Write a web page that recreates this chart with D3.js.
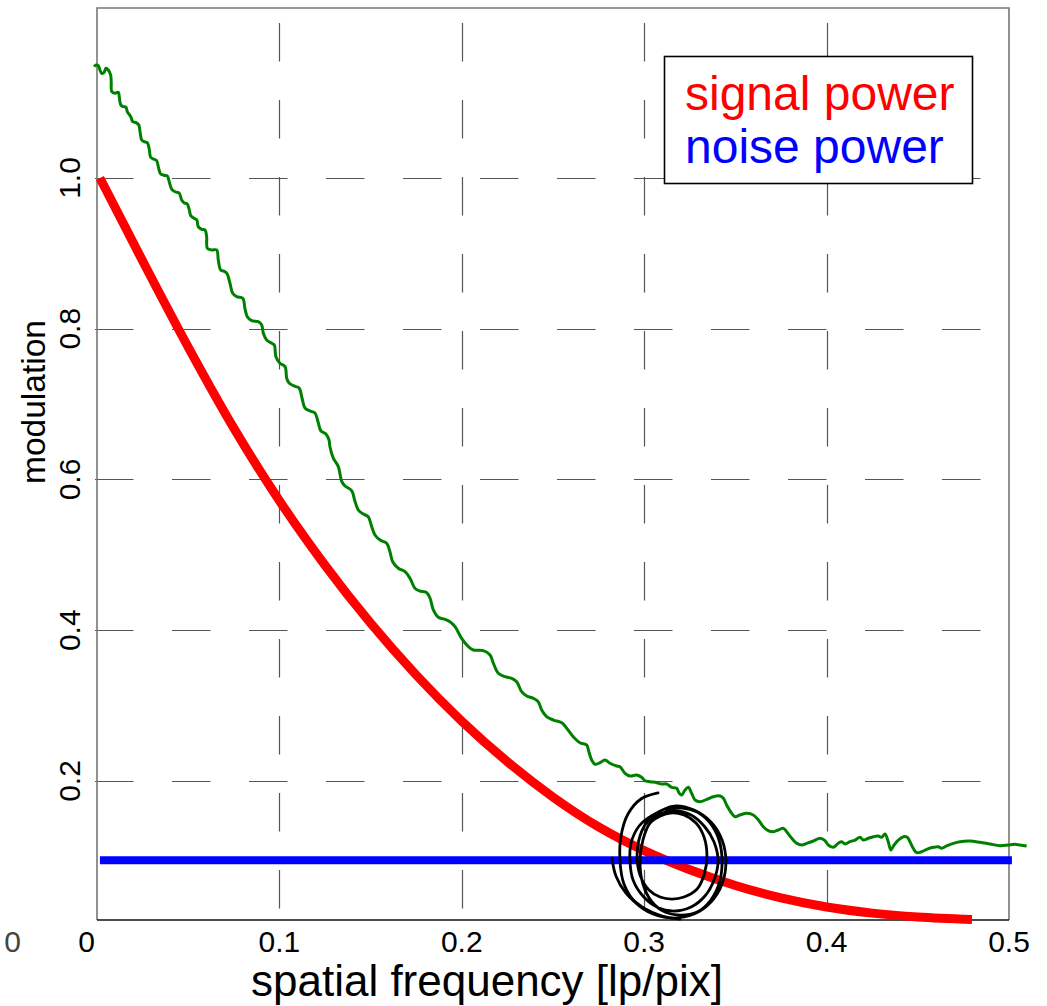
<!DOCTYPE html>
<html>
<head>
<meta charset="utf-8">
<script src="https://cdn.jsdelivr.net/npm/d3@7"></script>
<style>
  html, body { margin: 0; padding: 0; background: #fff; }
  svg { display: block; font-family: "Liberation Sans", Arial, Helvetica, sans-serif; }
</style>
</head>
<body>
<svg id="chart" width="1047" height="1006"></svg>
<script>
// Axis ticks
const xTicks = [0, 0.1, 0.2, 0.3, 0.4, 0.5];
const xTickLabels = ["0", "0.1", "0.2", "0.3", "0.4", "0.5"];
const yTicks = [0.2, 0.4, 0.6, 0.8, 1.0];
const yTickLabels = ["0.2", "0.4", "0.6", "0.8", "1.0"];

// Signal power (red)
const signalFreq = [0.0016, 0.025, 0.05, 0.075, 0.1, 0.125, 0.15, 0.175, 0.2, 0.225,
  0.25, 0.275, 0.3, 0.325, 0.35, 0.375, 0.4, 0.425, 0.45, 0.4797];
const signalPower = [1.0, 0.890, 0.7756, 0.6681, 0.5719, 0.4863, 0.4094, 0.3407, 0.2794, 0.2256,
  0.1787, 0.1391, 0.1076, 0.0823, 0.0614, 0.0449, 0.0328, 0.0247, 0.0195, 0.0162];

// Noise power (blue)
const noiseFreq = [0.0016, 0.5016];
const noisePower = [0.095, 0.095];

// Measured modulation (green)
const measuredFreq = [
  -0.0016, -0.0005, 0.0007, 0.0016, 0.0026, 0.0038, 0.0049, 0.0062, 0.0075, 0.0078,
  0.0081, 0.0099, 0.0117, 0.0122, 0.0130, 0.0144, 0.0159, 0.0166, 0.0185, 0.0196,
  0.0214, 0.0229, 0.0236, 0.0245, 0.0258, 0.0276, 0.0287, 0.0294, 0.0313, 0.0327,
  0.0338, 0.0349, 0.0367, 0.0385, 0.0396, 0.0410, 0.0428, 0.0451, 0.0464, 0.0477,
  0.0495, 0.0506, 0.0514, 0.0532, 0.0547, 0.0555, 0.0574, 0.0592, 0.0601, 0.0605,
  0.0629, 0.0656, 0.0665, 0.0678, 0.0702, 0.0714, 0.0729, 0.0744, 0.0766, 0.0799,
  0.0811, 0.0824, 0.0848, 0.0884, 0.0903, 0.0912, 0.0930, 0.0958, 0.0972, 0.0981,
  0.1003, 0.1031, 0.1040, 0.1053, 0.1080, 0.1108, 0.1124, 0.1140, 0.1168, 0.1195,
  0.1212, 0.1228, 0.1255, 0.1272, 0.1277, 0.1296, 0.1323, 0.1342, 0.1360, 0.1396,
  0.1415, 0.1433, 0.1460, 0.1487, 0.1506, 0.1524, 0.1552, 0.1588, 0.1606, 0.1621,
  0.1652, 0.1689, 0.1716, 0.1743, 0.1767, 0.1808, 0.1826, 0.1844, 0.1871, 0.1908,
  0.1935, 0.1963, 0.1999, 0.2036, 0.2063, 0.2118, 0.2155, 0.2173, 0.2200, 0.2237,
  0.2274, 0.2301, 0.2328, 0.2356, 0.2392, 0.2419, 0.2438, 0.2465, 0.2502, 0.2548,
  0.2575, 0.2611, 0.2648, 0.2685, 0.2694, 0.2712, 0.2730, 0.2758, 0.2785, 0.2812,
  0.2849, 0.2867, 0.2895, 0.2922, 0.2959, 0.2986, 0.3004, 0.3032, 0.3069, 0.3096,
  0.3123, 0.3151, 0.3178, 0.3192, 0.3206, 0.3224, 0.3242, 0.3260, 0.3279, 0.3306,
  0.3343, 0.3379, 0.3416, 0.3434, 0.3452, 0.3480, 0.3498, 0.3525, 0.3562, 0.3598,
  0.3626, 0.3653, 0.3680, 0.3708, 0.3735, 0.3763, 0.3781, 0.3809, 0.3836, 0.3864,
  0.3891, 0.3927, 0.3964, 0.3991, 0.4009, 0.4037, 0.4064, 0.4083, 0.4101, 0.4128,
  0.4156, 0.4183, 0.4201, 0.4229, 0.4256, 0.4283, 0.4302, 0.4320, 0.4338, 0.4352,
  0.4370, 0.4393, 0.4421, 0.4442, 0.4457, 0.4475, 0.4494, 0.4521, 0.4549, 0.4585,
  0.4612, 0.4631, 0.4658, 0.4695, 0.4731, 0.4786, 0.4841, 0.4896, 0.4951, 0.4996,
  0.5033, 0.5060, 0.5097
];
const measuredMod = [
  1.1477, 1.1499, 1.1490, 1.1433, 1.1389, 1.1397, 1.1455, 1.1433, 1.1366, 1.1256,
  1.1145, 1.1124, 1.1137, 1.1079, 1.0969, 1.0946, 1.0938, 1.0880, 1.0813, 1.0747,
  1.0734, 1.0703, 1.0614, 1.0504, 1.0482, 1.0468, 1.0372, 1.0275, 1.0248, 1.0230,
  1.0129, 1.0053, 1.0036, 1.0027, 0.9951, 0.9850, 0.9818, 0.9797, 0.9708, 0.9672,
  0.9655, 0.9576, 0.9500, 0.9465, 0.9443, 0.9354, 0.9319, 0.9310, 0.9221, 0.9067,
  0.9045, 0.9045, 0.8912, 0.8780, 0.8757, 0.8726, 0.8603, 0.8470, 0.8425, 0.8404,
  0.8271, 0.8160, 0.8107, 0.8094, 0.8050, 0.7940, 0.7851, 0.7807, 0.7785, 0.7629,
  0.7542, 0.7497, 0.7343, 0.7280, 0.7241, 0.7214, 0.7081, 0.6949, 0.6909, 0.6882,
  0.6763, 0.6643, 0.6604, 0.6524, 0.6435, 0.6281, 0.6170, 0.5971, 0.5914, 0.5851,
  0.5705, 0.5595, 0.5542, 0.5506, 0.5374, 0.5264, 0.5197, 0.5154, 0.5042, 0.4909,
  0.4822, 0.4777, 0.4689, 0.4557, 0.4521, 0.4498, 0.4424, 0.4269, 0.4172, 0.4145,
  0.4113, 0.4047, 0.3893, 0.3782, 0.3738, 0.3729, 0.3672, 0.3562, 0.3429, 0.3384,
  0.3363, 0.3317, 0.3185, 0.3128, 0.3097, 0.3052, 0.2942, 0.2853, 0.2809, 0.2773,
  0.2699, 0.2588, 0.2508, 0.2478, 0.2411, 0.2279, 0.2222, 0.2243, 0.2279, 0.2235,
  0.2199, 0.2190, 0.2102, 0.2066, 0.2080, 0.2049, 0.2004, 0.1991, 0.1977, 0.1960,
  0.1960, 0.1916, 0.1903, 0.1837, 0.1814, 0.1881, 0.1916, 0.1837, 0.1748, 0.1725,
  0.1757, 0.1792, 0.1801, 0.1771, 0.1682, 0.1571, 0.1526, 0.1549, 0.1571, 0.1549,
  0.1483, 0.1394, 0.1341, 0.1327, 0.1350, 0.1372, 0.1327, 0.1240, 0.1173, 0.1151,
  0.1173, 0.1204, 0.1240, 0.1208, 0.1151, 0.1120, 0.1173, 0.1195, 0.1164, 0.1195,
  0.1217, 0.1253, 0.1217, 0.1240, 0.1261, 0.1270, 0.1253, 0.1297, 0.1195, 0.1085,
  0.1151, 0.1217, 0.1261, 0.1253, 0.1195, 0.1107, 0.1049, 0.1062, 0.1094, 0.1120,
  0.1128, 0.1107, 0.1138, 0.1173, 0.1195, 0.1204, 0.1187, 0.1164, 0.1142, 0.1151,
  0.1160, 0.1151, 0.1138
];

// Hand-drawn circle around the crossing point: one looping stroke plus a short tail
const circleStrokeFreq = [
  0.3076, 0.2982, 0.2911, 0.2873, 0.2867, 0.2889, 0.2955, 0.3048, 0.3158, 0.3273,
  0.3366, 0.3427, 0.3448, 0.3427, 0.3366, 0.3273, 0.3163,
  0.3048, 0.2972, 0.2928, 0.2922, 0.2939, 0.2993, 0.3070, 0.3163, 0.3257, 0.3333,
  0.3383, 0.3405, 0.3383, 0.3333, 0.3257, 0.3174,
  0.3087, 0.3021, 0.2977, 0.2961, 0.2977, 0.3026, 0.3087, 0.3152, 0.3218, 0.3290,
  0.3328, 0.3344, 0.3328, 0.3284, 0.3218, 0.3141,
  0.3037, 0.2993, 0.2977, 0.2993, 0.3043, 0.3114, 0.3202, 0.3290, 0.3361, 0.3410,
  0.3427, 0.3410, 0.3361, 0.3290, 0.3207, 0.3120
];
const circleStrokeMod = [
  0.1841, 0.1761, 0.1562, 0.1270, 0.0952, 0.0634, 0.0381, 0.0235, 0.0182, 0.0235,
  0.0395, 0.0634, 0.0925, 0.1217, 0.1456, 0.1615, 0.1668,
  0.1549, 0.1403, 0.1177, 0.0939, 0.0687, 0.0474, 0.0328, 0.0275, 0.0328, 0.0474,
  0.0687, 0.0939, 0.1191, 0.1390, 0.1549, 0.1602,
  0.1562, 0.1469, 0.1270, 0.1005, 0.0753, 0.0554, 0.0461, 0.0434, 0.0461, 0.0567,
  0.0753, 0.1005, 0.1257, 0.1443, 0.1549, 0.1575,
  0.1456, 0.1217, 0.0925, 0.0634, 0.0395, 0.0262, 0.0222, 0.0262, 0.0408, 0.0634,
  0.0925, 0.1217, 0.1443, 0.1589, 0.1642, 0.1615
];
const circleTailFreq = [0.2823, 0.2845, 0.2900, 0.2988, 0.3098, 0.3196];
const circleTailMod = [0.0978, 0.0740, 0.0514, 0.0328, 0.0209, 0.0169];

const svg = d3.select("#chart");
const W = 1047, H = 1006;
svg.append("rect").attr("width", W).attr("height", H).attr("fill", "#fff");

const x = d3.scaleLinear().domain([0, 0.5]).range([97, 1009]);
const y = d3.scaleLinear().domain([0.0156, 1.2255]).range([920, 8]);
const [x0, x1] = x.range();
const [yb, yt] = y.range();

// Dashed grid
const grid = svg.append("g");
grid.selectAll("line.h").data(yTicks).join("line")
  .attr("x1", x0 - 2).attr("x2", x1)
  .attr("y1", d => Math.round(y(d)) + 0.5).attr("y2", d => Math.round(y(d)) + 0.5)
  .attr("stroke", "#555").attr("stroke-width", 1.2)
  .attr("stroke-dasharray", "38.5 38.5");
grid.selectAll("line.v").data(xTicks.slice(1, -1)).join("line")
  .attr("x1", d => Math.round(x(d)) + 0.5).attr("x2", d => Math.round(x(d)) + 0.5)
  .attr("y1", yt).attr("y2", yb)
  .attr("stroke", "#555").attr("stroke-width", 1.2)
  .attr("stroke-dasharray", "38.5 38.5").attr("stroke-dashoffset", 62);

// Frame
svg.append("path")
  .attr("d", `M${x0},${yb}V${yt}H${x1}V${yb}`)
  .attr("fill", "none").attr("stroke", "#777").attr("stroke-width", 1.6);
svg.append("line").attr("x1", x0).attr("x2", x1).attr("y1", yb).attr("y2", yb)
  .attr("stroke", "#111").attr("stroke-width", 1.6);

// Tick labels
svg.selectAll("text.xt").data(xTicks).join("text")
  .attr("x", (d, i) => i === 0 ? x(d) - 2 : x(d))
  .attr("y", 952)
  .attr("text-anchor", (d, i) => i === 0 ? "end" : "middle")
  .attr("font-size", 30).attr("fill", "#000")
  .text((d, i) => xTickLabels[i]);
svg.selectAll("text.yt").data(yTicks).join("text")
  .attr("transform", d => `translate(80,${y(d)}) rotate(-90)`)
  .attr("text-anchor", "middle")
  .attr("font-size", 30).attr("fill", "#000")
  .text((d, i) => yTickLabels[i]);
svg.append("text").attr("x", 21).attr("y", 952).attr("text-anchor", "end")
  .attr("font-size", 30).attr("fill", "#444").text("0");

// Axis titles
svg.append("text")
  .attr("transform", `translate(45,402) rotate(-90)`)
  .attr("text-anchor", "middle").attr("font-size", 33.5).attr("fill", "#000")
  .text("modulation");
svg.append("text")
  .attr("x", 487).attr("y", 996)
  .attr("text-anchor", "middle").attr("font-size", 44).attr("fill", "#000")
  .text("spatial frequency [lp/pix]");

// Curves
const lineOf = (fs, vs, curve) => d3.line().curve(curve)
  .x(i => x(fs[i])).y(i => y(vs[i]))(d3.range(fs.length));

svg.append("path")
  .attr("d", lineOf(measuredFreq, measuredMod, d3.curveCatmullRom.alpha(0.5)))
  .attr("fill", "none").attr("stroke", "#008000").attr("stroke-width", 3)
  .attr("stroke-linejoin", "round");

svg.append("path")
  .attr("d", lineOf(signalFreq, signalPower, d3.curveMonotoneX))
  .attr("fill", "none").attr("stroke", "#ff0000").attr("stroke-width", 9);

svg.append("path")
  .attr("d", lineOf(noiseFreq, noisePower, d3.curveLinear))
  .attr("fill", "none").attr("stroke", "#0000ff").attr("stroke-width", 8);

// Hand-drawn circle
[[circleStrokeFreq, circleStrokeMod], [circleTailFreq, circleTailMod]].forEach(([fs, vs]) => {
  svg.append("path")
    .attr("d", lineOf(fs, vs, d3.curveCatmullRom.alpha(0.5)))
    .attr("fill", "none").attr("stroke", "#000").attr("stroke-width", 2.8)
    .attr("stroke-linecap", "round").attr("stroke-linejoin", "round");
});

// Legend
const lg = svg.append("g");
lg.append("rect").attr("x", 664.5).attr("y", 56.5).attr("width", 308).attr("height", 127)
  .attr("fill", "#fff").attr("stroke", "#000").attr("stroke-width", 1.6);
lg.append("text").attr("x", 685).attr("y", 110).attr("font-size", 48).attr("fill", "#ff0000")
  .text("signal power");
lg.append("text").attr("x", 685).attr("y", 163).attr("font-size", 48).attr("fill", "#0000ff")
  .text("noise power");
</script>
</body>
</html>
